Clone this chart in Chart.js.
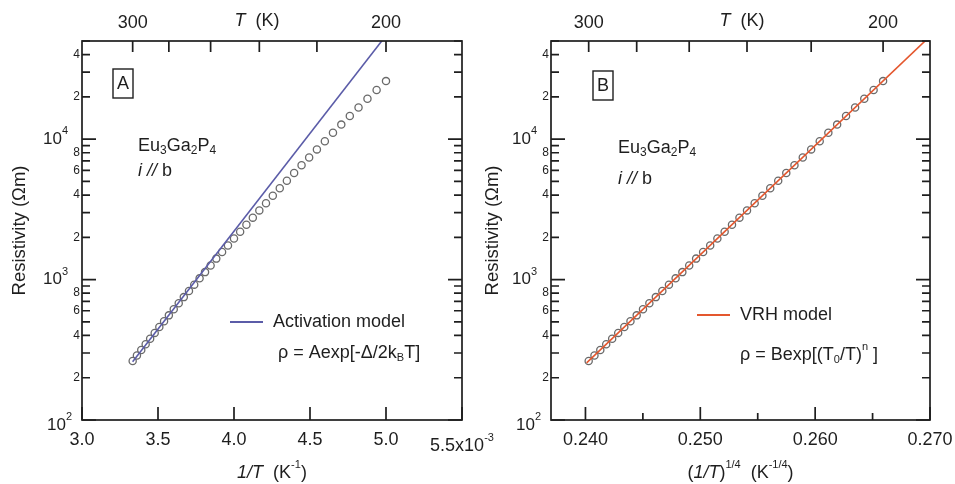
<!DOCTYPE html>
<html>
<head>
<meta charset="utf-8">
<title>Eu3Ga2P4 resistivity</title>
<script src="https://cdn.jsdelivr.net/npm/chart.js@4"></script>
<style>
  body { margin: 0; background: #fff; }
  #wrap { position: relative; width: 955px; height: 484px; }
  canvas { position: absolute; top: 0; }
  #chartA { left: 0; }
  #chartB { left: 477px; }
</style>
</head>
<body>
<div id="wrap">
  <canvas id="chartA" width="500" height="484"></canvas>
  <canvas id="chartB" width="478" height="484"></canvas>
</div>
<script>
// measured points, i // b
var temperatureK = [300, 297.5, 295, 292.5, 290, 287.5, 285, 282.5, 280, 277.5,
  275, 272.5, 270, 267.5, 265, 262.5, 260, 257.5, 255, 252.5,
  250, 247.5, 245, 242.5, 240, 237.5, 235, 232.5, 230, 227.5,
  225, 222.5, 220, 217.5, 215, 212.5, 210, 207.5, 205, 202.5, 200];
var resistivity = [263, 288, 315, 346, 379, 417, 459, 505, 556, 614,
  678, 750, 830, 920, 1020, 1130, 1260, 1410, 1570, 1750,
  1960, 2190, 2460, 2760, 3110, 3500, 3950, 4470, 5060, 5740,
  6520, 7410, 8450, 9650, 11100, 12700, 14600, 16800, 19400, 22400, 25900];

// fitted lines (end points)
var activationX = [3.333, 5.0];      // 1/T in 1e-3 K^-1
var activationY = [260, 54700];
var vrhX = [0.2401, 0.2700];         // (1/T)^(1/4)
var vrhY = [255, 54000];

// axis ticks
var xTicksA = [3.0, 3.5, 4.0, 4.5, 5.0, 5.5];
var xLabelsA = [3.0, 3.5, 4.0, 4.5, 5.0, 5.5];
var xTicksB = [0.240, 0.245, 0.250, 0.255, 0.260, 0.265, 0.270];
var xLabelsB = [0.240, 0.250, 0.260, 0.270];
var tempTicks = [300, 280, 260, 240, 220, 200];
var tempLabels = [300, 200];
var yDecades = [100, 1000, 10000];
var yMinorLabels = [2, 4, 6, 8];

var INK = '#1e1e1e';
var FACE = '"Liberation Sans", Arial, sans-serif';

function font(size, italic) {
  return (italic ? 'italic ' : '') + size + 'px ' + FACE;
}

// runs: [text, size, italic, dy]
function drawRuns(ctx, runs, x, y, align) {
  var total = 0;
  runs.forEach(function(r) { ctx.font = font(r[1], r[2]); total += ctx.measureText(r[0]).width; });
  var cx = align === 'center' ? x - total / 2 : align === 'right' ? x - total : x;
  ctx.textAlign = 'left';
  ctx.textBaseline = 'middle';
  runs.forEach(function(r) {
    ctx.font = font(r[1], r[2]);
    ctx.fillText(r[0], cx, y + (r[3] || 0));
    cx += ctx.measureText(r[0]).width;
  });
}

function axesPlugin(p) {
  return {
    id: 'axes' + p.letter,
    afterDraw: function(chart) {
      var ctx = chart.ctx, a = chart.chartArea, x = chart.scales.x, y = chart.scales.y;
      ctx.save();
      ctx.strokeStyle = INK;
      ctx.fillStyle = INK;
      ctx.lineWidth = 1.7;
      ctx.strokeRect(a.left, a.top, a.right - a.left, a.bottom - a.top);

      ctx.beginPath();
      p.xTicks.forEach(function(v) {
        var px = x.getPixelForValue(v);
        var len = p.xLabels.indexOf(v) >= 0 ? 13 : 7;
        ctx.moveTo(px, a.bottom); ctx.lineTo(px, a.bottom - len);
      });
      tempTicks.forEach(function(t) {
        var px = x.getPixelForValue(p.fromT(t));
        ctx.moveTo(px, a.top); ctx.lineTo(px, a.top + 11);
      });
      yDecades.forEach(function(d) {
        for (var m = 1; m <= 9; m++) {
          var v = d * m;
          if (v > y.max) break;
          var py = y.getPixelForValue(v);
          var len = m === 1 ? 14 : 8;
          ctx.moveTo(a.left, py); ctx.lineTo(a.left + len, py);
          ctx.moveTo(a.right, py); ctx.lineTo(a.right - len, py);
        }
      });
      ctx.stroke();

      // bottom tick labels
      p.xLabels.forEach(function(v) {
        var px = x.getPixelForValue(v);
        if (p.letter === 'A' && v === 5.5) {
          drawRuns(ctx, [['5.5x10', 18], ['-3', 11, false, -8]], px, a.bottom + 26, 'center');
        } else {
          drawRuns(ctx, [[v.toFixed(p.digits), 18]], px, a.bottom + 20, 'center');
        }
      });

      // top temperature labels
      tempLabels.forEach(function(t) {
        drawRuns(ctx, [[String(t), 18]], x.getPixelForValue(p.fromT(t)), a.top - 18, 'center');
      });
      drawRuns(ctx, [['T', 18, true], ['  (K)', 18]], a.left + p.tTitleDx, a.top - 20, 'center');

      // left decade labels and minor labels
      yDecades.forEach(function(d) {
        var py = y.getPixelForValue(d);
        var exp = String(Math.round(Math.log10(d)));
        if (d === y.min) {
          drawRuns(ctx, [['10', 17], [exp, 11, false, -8]], a.left - 10, py + 5, 'right');
        } else {
          drawRuns(ctx, [['10', 17], [exp, 11, false, -8]], a.left - 14, py, 'right');
        }
        yMinorLabels.forEach(function(m) {
          if (d * m > y.max) return;
          drawRuns(ctx, [[String(m), 12]], a.left - 2, y.getPixelForValue(d * m), 'right');
        });
      });

      // axis titles
      drawRuns(ctx, p.xTitle, (a.left + a.right) / 2, a.bottom + 53, 'center');
      ctx.save();
      ctx.translate(p.yTitleX, (a.top + a.bottom) / 2);
      ctx.rotate(-Math.PI / 2);
      drawRuns(ctx, [['Resistivity (\u03A9m)', 18.5]], 0, 0, 'center');
      ctx.restore();

      // panel letter
      ctx.lineWidth = 1.4;
      ctx.strokeRect(a.left + p.box[0], a.top + p.box[1], 20, 29);
      drawRuns(ctx, [[p.letter, 18]], a.left + p.box[0] + 10, a.top + p.box[1] + 15, 'center');

      // compound and current direction
      drawRuns(ctx, [['Eu', 18], ['3', 12, false, 5], ['Ga', 18], ['2', 12, false, 5], ['P', 18], ['4', 12, false, 5]],
        a.left + p.note[0], a.top + p.note[1], 'left');
      drawRuns(ctx, [['i // ', 18, true], ['b', 18]], a.left + p.note[0], a.top + p.note[2], 'left');

      // legend
      ctx.strokeStyle = p.color;
      ctx.lineWidth = 2;
      ctx.beginPath();
      ctx.moveTo(a.left + p.legend[0], a.top + p.legend[1]);
      ctx.lineTo(a.left + p.legend[0] + 33, a.top + p.legend[1]);
      ctx.stroke();
      drawRuns(ctx, [[p.model, 18]], a.left + p.legend[0] + 43, a.top + p.legend[1], 'left');
      drawRuns(ctx, p.formula, a.left + p.legend[2], a.top + p.legend[3], 'left');
      ctx.restore();
    }
  };
}

function makeChart(id, p, fitX, fitY, toX) {
  var pts = temperatureK.map(function(t, i) { return { x: toX(t), y: resistivity[i] }; });
  var fit = fitX.map(function(v, i) { return { x: v, y: fitY[i] }; });
  return new Chart(document.getElementById(id), {
    type: 'scatter',
    data: {
      datasets: [{
        data: fit,
        showLine: true,
        borderColor: p.color,
        borderWidth: 1.6,
        pointRadius: 0
      }, {
        data: pts,
        showLine: false,
        pointRadius: 3.6,
        pointBorderWidth: 1.3,
        borderColor: '#6a6a6a',
        backgroundColor: 'rgba(255,255,255,0)'
      }]
    },
    options: {
      responsive: false,
      animation: false,
      events: [],
      layout: { padding: p.padding },
      plugins: { legend: { display: false }, tooltip: { enabled: false } },
      scales: {
        x: { type: 'linear', min: p.xMin, max: p.xMax, display: false },
        y: { type: 'logarithmic', min: 100, max: 50000, display: false }
      }
    },
    plugins: [axesPlugin(p)]
  });
}

var panelA = {
  letter: 'A', color: '#5b5ca8', xMin: 3.0, xMax: 5.5, digits: 1,
  xTicks: xTicksA, xLabels: xLabelsA,
  fromT: function(t) { return 1000 / t; },
  padding: { left: 82, right: 38, top: 41, bottom: 64 },
  tTitleDx: 175, yTitleX: 20,
  box: [31, 28], note: [56, 105, 130],
  legend: [148, 281, 196, 312],
  model: 'Activation model',
  formula: [['\u03C1 = Aexp[-\u0394/2k', 18], ['B', 11, false, 5], ['T]', 18]],
  xTitle: [['1/T', 18, true], ['  (K', 18], ['-1', 11, false, -8], [')', 18]]
};

var panelB = {
  letter: 'B', color: '#e4572e', xMin: 0.237, xMax: 0.270, digits: 3,
  xTicks: xTicksB, xLabels: xLabelsB,
  fromT: function(t) { return Math.pow(1 / t, 0.25); },
  padding: { left: 74, right: 25, top: 41, bottom: 64 },
  tTitleDx: 191, yTitleX: 16,
  box: [42, 30], note: [67, 107, 138],
  legend: [146, 274, 189, 314],
  model: 'VRH model',
  formula: [['\u03C1 = Bexp[(T', 18], ['0', 11, false, 5], ['/T)', 18], ['n', 11, false, -8], [' ]', 18]],
  xTitle: [['(', 18], ['1/T', 18, true], [')', 18], ['1/4', 11, false, -8], ['  (K', 18], ['-1/4', 11, false, -8], [')', 18]]
};

makeChart('chartA', panelA, activationX, activationY, function(t) { return 1000 / t; });
makeChart('chartB', panelB, vrhX, vrhY, function(t) { return Math.pow(1 / t, 0.25); });
</script>
</body>
</html>
